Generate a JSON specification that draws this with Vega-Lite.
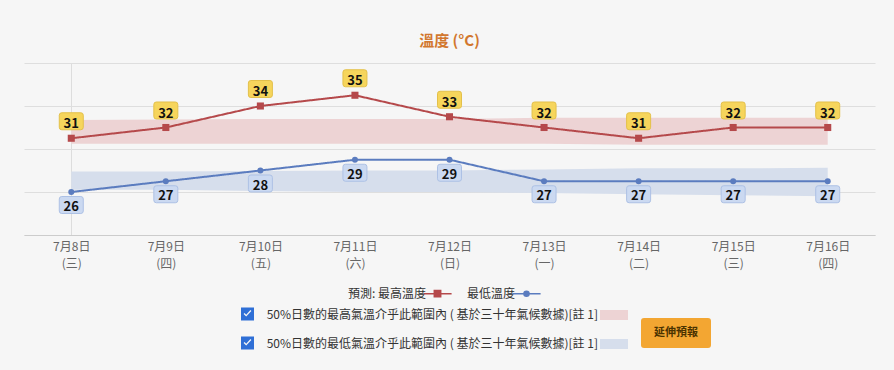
{
  "$schema": "https://vega.github.io/schema/vega-lite/v6.json",
  "width": 851,
  "height": 172,
  "autosize": {"type": "none"},
  "padding": {"left": 24, "top": 63, "right": 19, "bottom": 135},
  "background": "#f6f6f6",
  "config": {"font": "Noto Sans CJK TC", "view": {"stroke": null}},
  "title": {"text": "溫度 (°C)", "anchor": "middle", "font": "Noto Sans CJK TC", "fontSize": 15, "fontWeight": "bold", "color": "#d2772e", "offset": 2, "baseline": "alphabetic"},
  "data": {"values": [
    {"day": "7月8日 (三)", "max": 31, "min": 26, "maxLo": 30.5, "maxHi": 32.7, "minLo": 26.2, "minHi": 27.9},
    {"day": "7月9日 (四)", "max": 32, "min": 27, "maxLo": 30.5, "maxHi": 32.75, "minLo": 26.2, "minHi": 27.9},
    {"day": "7月10日 (五)", "max": 34, "min": 28, "maxLo": 30.5, "maxHi": 32.8, "minLo": 26.1, "minHi": 27.95},
    {"day": "7月11日 (六)", "max": 35, "min": 29, "maxLo": 30.5, "maxHi": 32.8, "minLo": 26.0, "minHi": 28.0},
    {"day": "7月12日 (日)", "max": 33, "min": 29, "maxLo": 30.5, "maxHi": 32.8, "minLo": 26.0, "minHi": 28.0},
    {"day": "7月13日 (一)", "max": 32, "min": 27, "maxLo": 30.5, "maxHi": 32.9, "minLo": 25.9, "minHi": 28.1},
    {"day": "7月14日 (二)", "max": 31, "min": 27, "maxLo": 30.4, "maxHi": 32.9, "minLo": 25.8, "minHi": 28.2},
    {"day": "7月15日 (三)", "max": 32, "min": 27, "maxLo": 30.4, "maxHi": 32.9, "minLo": 25.7, "minHi": 28.2},
    {"day": "7月16日 (四)", "max": 32, "min": 27, "maxLo": 30.4, "maxHi": 32.9, "minLo": 25.6, "minHi": 28.25}
  ]},
  "encoding": {
    "x": {
      "field": "day", "type": "ordinal", "sort": null,
      "scale": {"type": "point", "padding": 0.5},
      "axis": {
        "title": null, "labelAngle": 0, "ticks": false,
        "domain": true, "domainColor": "#cccccc",
        "labelExpr": "split(datum.value, ' ')",
        "labelFontSize": 12, "labelColor": "#666666", "labelLineHeight": 17, "labelPadding": 6, "labelBaseline": "top",
        "grid": true,
        "gridColor": {"condition": {"test": "datum.value === '7月8日 (三)'", "value": "#dddddd"}, "value": "transparent"}
      }
    }
  },
  "layer": [
    {
      "mark": {"type": "area", "opacity": 1},
      "encoding": {
        "y": {
          "field": "maxLo", "type": "quantitative",
          "scale": {"domain": [22, 38], "nice": false, "zero": false},
          "axis": {"title": null, "labels": false, "ticks": false, "domain": false, "grid": true, "values": [22, 24, 26, 28, 30, 32, 34, 36, 38], "gridColor": "#dedede"}
        },
        "y2": {"field": "maxHi"},
        "fill": {
          "datum": "50%日數的最高氣溫介乎此範圍內 ( 基於三十年氣候數據)[註 1]", "type": "nominal",
          "scale": {"domain": ["50%日數的最高氣溫介乎此範圍內 ( 基於三十年氣候數據)[註 1]", "50%日數的最低氣溫介乎此範圍內 ( 基於三十年氣候數據)[註 1]"], "range": ["#edd3d4", "#d6deec"]},
          "legend": {
            "title": null, "orient": "none", "legendX": 576, "legendY": 242, "direction": "vertical",
            "symbolType": "M-1.4,-0.5L1.4,-0.5L1.4,0.5L-1.4,0.5Z", "symbolSize": 400, "symbolOffset": 4, "symbolStrokeWidth": 0,
            "labelAlign": "right", "labelOffset": -26, "labelLimit": 0, "rowPadding": 13,
            "labelFontSize": 12, "labelColor": "#333333"
          }
        }
      }
    },
    {
      "mark": {"type": "area", "opacity": 1},
      "encoding": {
        "y": {"field": "minLo", "type": "quantitative"},
        "y2": {"field": "minHi"},
        "fill": {"datum": "50%日數的最低氣溫介乎此範圍內 ( 基於三十年氣候數據)[註 1]", "type": "nominal"}
      }
    },
    {
      "mark": {"type": "line", "strokeWidth": 2},
      "encoding": {
        "y": {"field": "max", "type": "quantitative"},
        "stroke": {
          "datum": "最高溫度", "type": "nominal",
          "scale": {"domain": ["最高溫度", "最低溫度"], "range": ["#b5494b", "#5b7cbf"]},
          "legend": {
            "title": null, "orient": "none", "legendX": 398, "legendY": 223, "direction": "horizontal",
            "labelExpr": "datum.value === '最高溫度' ? '預測: 最高溫度' : datum.value",
            "symbolSize": 164, "symbolOffset": 8, "labelAlign": "right", "labelOffset": -19, "columnPadding": 11,
            "labelFontSize": 12, "labelColor": "#333333",
            "encode": {
              "symbols": {
                "update": {
                  "shape": {"signal": "datum.value === '最高溫度' ? 'M-2.2,0L2.2,0M-0.5,-0.5L0.5,-0.5L0.5,0.5L-0.5,0.5Z' : 'M-2.2,0L2.2,0M0.4,0A0.4,0.4,0,1,1,-0.4,0A0.4,0.4,0,1,1,0.4,0Z'"},
                  "fill": {"signal": "datum.value === '最高溫度' ? '#b5494b' : '#5b7cbf'"},
                  "stroke": {"signal": "datum.value === '最高溫度' ? '#b5494b' : '#5b7cbf'"},
                  "strokeWidth": {"signal": "1.5"}
                }
              }
            }
          }
        },
        "strokeDash": {
          "datum": "最高", "type": "nominal",
          "scale": {"domain": ["最高", "最低"], "range": [[1, 0], [1, 0]]},
          "legend": {
            "title": null, "orient": "none", "legendX": 217, "legendY": 244.5, "direction": "vertical",
            "symbolSize": 169, "symbolOffset": 0, "rowPadding": 16, "labelExpr": "''", "labelFontSize": 1,
            "symbolType": "M-1,-1L1,-1L1,1L-1,1ZM-0.6,0L-0.2,0.4L0.6,-0.45L0.45,-0.6L-0.2,0.1L-0.45,-0.15Z",
            "symbolFillColor": "#2f6fd6", "symbolStrokeColor": "#2f6fd6", "symbolStrokeWidth": 0
          }
        },
        "opacity": {
          "datum": "延伸預報", "type": "ordinal",
          "scale": {"range": [1, 1]},
          "legend": {
            "title": null, "orient": "none", "legendX": 632, "legendY": 250,
            "symbolSize": 1600, "symbolOffset": 0,
            "symbolType": "M-1.6,-0.75L1.6,-0.75Q1.75,-0.75 1.75,-0.6L1.75,0.6Q1.75,0.75 1.6,0.75L-1.6,0.75Q-1.75,0.75 -1.75,0.6L-1.75,-0.6Q-1.75,-0.75 -1.6,-0.75Z",
            "symbolFillColor": "#f3a632", "symbolStrokeColor": "#dc9322", "symbolStrokeWidth": 0,
            "labelAlign": "center", "labelOffset": -20, "labelFontSize": 11, "labelFontWeight": "bold", "labelColor": "#4a3200"
          }
        }
      }
    },
    {
      "mark": {"type": "point", "shape": "square", "filled": true, "fill": "#b5494b", "size": 50, "opacity": 1},
      "encoding": {"y": {"field": "max", "type": "quantitative"}}
    },
    {
      "mark": {"type": "line", "strokeWidth": 2},
      "encoding": {
        "y": {"field": "min", "type": "quantitative"},
        "stroke": {"datum": "最低溫度", "type": "nominal"},
        "strokeDash": {"datum": "最低", "type": "nominal"}
      }
    },
    {
      "mark": {"type": "point", "shape": "circle", "filled": true, "fill": "#5b7cbf", "size": 36, "opacity": 1},
      "encoding": {"y": {"field": "min", "type": "quantitative"}}
    },
    {
      "mark": {"type": "point", "shape": "M-0.95,-0.85L0.95,-0.85Q1.2,-0.85 1.2,-0.6L1.2,0.6Q1.2,0.85 0.95,0.85L-0.95,0.85Q-1.2,0.85 -1.2,0.6L-1.2,-0.6Q-1.2,-0.85 -0.95,-0.85Z", "size": 400, "filled": true, "fill": "#f6d55c", "stroke": "#e3c04a", "strokeWidth": 1, "opacity": 1, "yOffset": -17},
      "encoding": {"y": {"field": "max", "type": "quantitative"}}
    },
    {
      "mark": {"type": "text", "fontWeight": "bold", "fontSize": 13, "color": "#111111", "dy": -14, "baseline": "middle"},
      "encoding": {"y": {"field": "max", "type": "quantitative"}, "text": {"field": "max", "type": "quantitative"}}
    },
    {
      "mark": {"type": "point", "shape": "M-0.95,-0.85L0.95,-0.85Q1.2,-0.85 1.2,-0.6L1.2,0.6Q1.2,0.85 0.95,0.85L-0.95,0.85Q-1.2,0.85 -1.2,0.6L-1.2,-0.6Q-1.2,-0.85 -0.95,-0.85Z", "size": 400, "filled": true, "fill": "#cbd9f1", "stroke": "#adc1e5", "strokeWidth": 1, "opacity": 1, "yOffset": 13},
      "encoding": {"y": {"field": "min", "type": "quantitative"}}
    },
    {
      "mark": {"type": "text", "fontWeight": "bold", "fontSize": 13, "color": "#111111", "dy": 15, "baseline": "middle"},
      "encoding": {"y": {"field": "min", "type": "quantitative"}, "text": {"field": "min", "type": "quantitative"}}
    }
  ]
}
